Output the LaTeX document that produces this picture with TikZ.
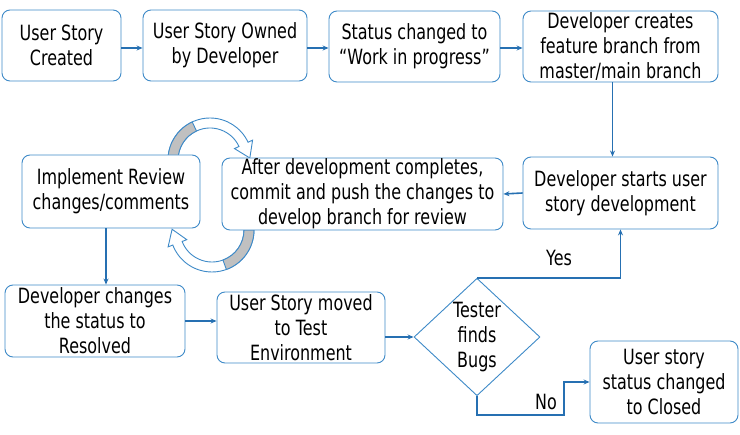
\documentclass[tikz,border=0pt]{standalone}
\usepackage{fontspec}
\setmainfont{DejaVu Sans}[FakeStretch=0.76]
\usetikzlibrary{shapes.geometric,arrows.meta,calc}
\definecolor{boxblue}{RGB}{62,138,200}
\definecolor{lineblue}{RGB}{38,112,178}
\definecolor{bandgray}{RGB}{192,192,192}
\begin{document}
\begin{tikzpicture}[x=1pt,y=-1pt,
  box/.style={draw=boxblue,line width=0.9pt,fill=white,rounded corners=8pt,align=center,inner sep=0pt,
    font=\fontsize{21}{25}\selectfont},
  dia/.style={draw=boxblue,line width=0.9pt,fill=white,diamond,align=center,inner sep=0pt,
    font=\fontsize{21}{25}\selectfont},
  conn/.style={draw=lineblue,line width=1.6pt,-{Stealth[length=6pt,width=5pt]}},
  lbl/.style={font=\fontsize{21}{25}\selectfont},
  band/.style={draw=boxblue,line width=0.9pt,fill=white}
]
\useasboundingbox (0,0) rectangle (740,435);

% curved block arrows (drawn first)
\coordinate (tc) at (210,160);
\coordinate (bc) at (212,230);
% top arrow: from Implement box up and over into After box
\path[band] ($(tc)+(180:42)$) arc[start angle=180,end angle=335,radius=42]
  -- ($(tc)+(335:47)$) -- ($(tc)+(335:37)+(0.42*15,0.91*15)$) -- ($(tc)+(335:27)$)
  -- ($(tc)+(335:32)$) arc[start angle=335,end angle=180,radius=32] -- cycle;
\path[fill=bandgray,draw=boxblue,line width=0.9pt] ($(tc)+(180:42)$) arc[start angle=180,end angle=245,radius=42]
  -- ($(tc)+(245:32)$) arc[start angle=245,end angle=180,radius=32] -- cycle;
% bottom arrow: from After box down and back up into Implement box
\path[band] ($(bc)+(0:42)$) arc[start angle=0,end angle=159,radius=42]
  -- ($(bc)+(159:47)$) -- ($(bc)+(159:37)+(-0.358*15,-0.934*15)$) -- ($(bc)+(159:27)$)
  -- ($(bc)+(159:32)$) arc[start angle=159,end angle=0,radius=32] -- cycle;
\path[fill=bandgray,draw=boxblue,line width=0.9pt] ($(bc)+(0:42)$) arc[start angle=0,end angle=70,radius=42]
  -- ($(bc)+(70:32)$) arc[start angle=70,end angle=0,radius=32] -- cycle;

% nodes
\node[box,minimum width=119,minimum height=71] (b1) at (61.5,45.5) {User Story\\Created};
\node[box,minimum width=164,minimum height=71] (b2) at (225,45.5) {User Story Owned\\by Developer};
\node[box,minimum width=171,minimum height=71] (b3) at (414.5,46.5) {Status changed to\\“Work in progress”};
\node[box,minimum width=195,minimum height=71] (b4) at (620.5,46.5) {Developer creates\\feature branch from\\master/main branch};
\node[box,minimum width=195,minimum height=72] (b5) at (620.5,193) {Developer starts user\\story development};
\node[box,minimum width=281,minimum height=72] (b6) at (362.5,194) {After development completes,\\commit and push the changes to\\develop branch for review};
\node[box,minimum width=178,minimum height=73] (b7) at (111,191.5) {Implement Review\\changes/comments};
\node[box,minimum width=180,minimum height=72] (b8) at (95,321) {Developer changes\\the status to\\Resolved};
\node[box,minimum width=168,minimum height=71] (b9) at (301,327.5) {User Story moved\\to Test\\Environment};
\node[dia,minimum width=126,minimum height=116] (d) at (477,337) {Tester\\finds\\Bugs};
\node[box,minimum width=148,minimum height=82] (b10) at (664,382) {User story\\status changed\\to Closed};

% connectors
\draw[conn] (b1.east |- 0,48) -- (b2.west |- 0,48);
\draw[conn] (b2.east |- 0,48) -- (b3.west |- 0,48);
\draw[conn] (b3.east |- 0,48) -- (b4.west |- 0,48);
\draw[conn] ([xshift=-8pt]b4.south) -- ([xshift=-8pt]b5.north);
\draw[conn] (b5.west) -- (b6.east);
\draw[conn] ([xshift=-5pt]b7.south) -- ([xshift=-5pt]b7.south |- b8.north);
\draw[conn] (b8.east) -- (b8.east -| b9.west);
\draw[conn] (b9.east |- d.west) -- (d.west);
\draw[conn] (d.north) -| (b5.south);
\coordinate (nc) at (564,415);
\draw[conn] (d.south) |- (nc) |- (b10.west);
\node[lbl] (yes) at (559,258) {Yes};
\node[lbl] (no) at (546,402) {No};
\end{tikzpicture}
\end{document}
